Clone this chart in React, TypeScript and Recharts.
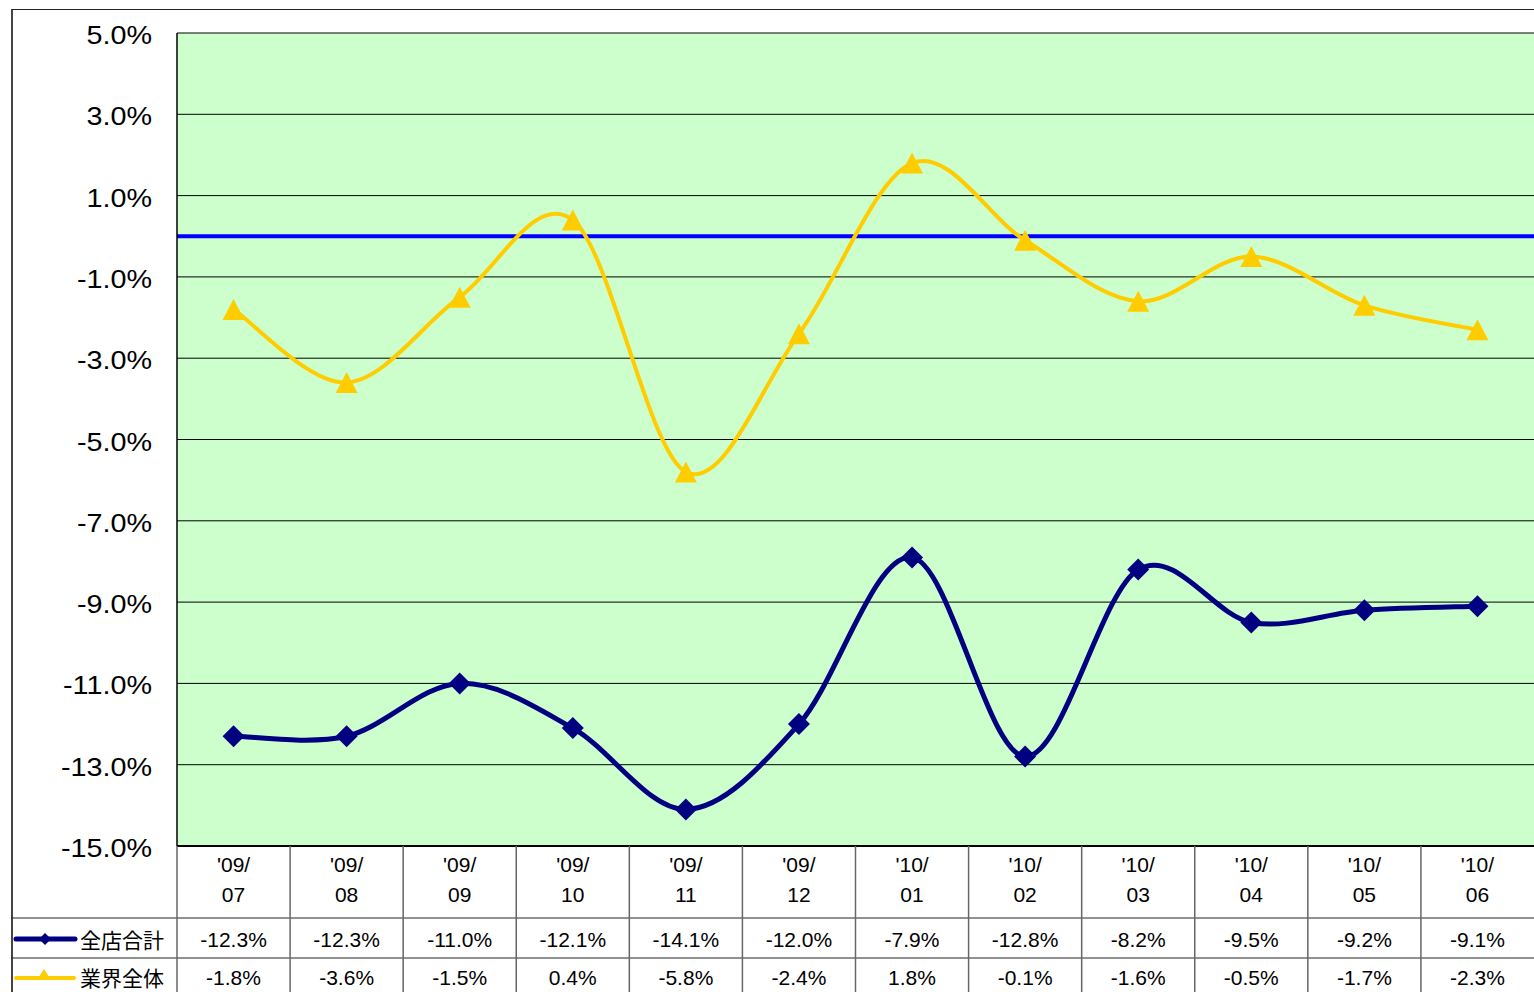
import React from 'react';
import { ComposedChart, Line, XAxis, YAxis, CartesianGrid, ReferenceLine } from 'recharts';

const yearLabels = ["'09/", "'09/", "'09/", "'09/", "'09/", "'09/", "'10/", "'10/", "'10/", "'10/", "'10/", "'10/"];
const monthLabels = ['07', '08', '09', '10', '11', '12', '01', '02', '03', '04', '05', '06'];
const storeTotal = [-12.3, -12.3, -11.0, -12.1, -14.1, -12.0, -7.9, -12.8, -8.2, -9.5, -9.2, -9.1];
const industryTotal = [-1.8, -3.6, -1.5, 0.4, -5.8, -2.4, 1.8, -0.1, -1.6, -0.5, -1.7, -2.3];
const yTicks = [5, 3, 1, -1, -3, -5, -7, -9, -11, -13, -15];
const seriesNames = ['全店合計', '業界全体'];

const NAVY = '#000080';
const GOLD = '#FFCC00';
const FONT = '"Liberation Sans", Arial, sans-serif';
const CJK = '"Noto Sans CJK JP", sans-serif';

const data = monthLabels.map((m, i) => ({
  key: yearLabels[i] + m,
  store: storeTotal[i],
  industry: industryTotal[i],
}));

// Excel-like smoothed line (Catmull-Rom as cubic Bezier)
function excelCurve(context: any) {
  let pts: number[][] = [];
  return {
    areaStart() {},
    areaEnd() {},
    lineStart() { pts = []; },
    lineEnd() {
      const n = pts.length;
      if (!n) return;
      context.moveTo(pts[0][0], pts[0][1]);
      for (let i = 0; i < n - 1; i++) {
        const p0 = pts[Math.max(0, i - 1)];
        const p1 = pts[i];
        const p2 = pts[i + 1];
        const p3 = pts[Math.min(n - 1, i + 2)];
        context.bezierCurveTo(
          p1[0] + (p2[0] - p0[0]) / 6, p1[1] + (p2[1] - p0[1]) / 6,
          p2[0] - (p3[0] - p1[0]) / 6, p2[1] - (p3[1] - p1[1]) / 6,
          p2[0], p2[1]
        );
      }
    },
    point(x: number, y: number) { pts.push([+x, +y]); },
  };
}

const Diamond = (p: any) => {
  const { cx, cy } = p;
  if (cx == null || cy == null) return <g key={p.index} />;
  const r = 11;
  return <polygon key={p.index} points={`${cx},${cy - r} ${cx + r},${cy} ${cx},${cy + r} ${cx - r},${cy}`} fill={NAVY} />;
};

const Triangle = (p: any) => {
  const { cx, cy } = p;
  if (cx == null || cy == null) return <g key={p.index} />;
  const h = 21, w = 22;
  return <polygon key={p.index} points={`${cx},${cy - h / 2} ${cx + w / 2},${cy + h / 2} ${cx - w / 2},${cy + h / 2}`} fill={GOLD} />;
};

const YTick = (p: any) => {
  const { y, payload } = p;
  return (
    <g transform={`translate(144, ${y + 11}) scale(1.15, 1)`}>
      <text x={0} y={0} textAnchor="end" fontFamily={FONT} fontSize={25} fill="#000">
        {payload.value.toFixed(1)}%
      </text>
    </g>
  );
};

const TableTick = (p: any) => {
  const { x, y, payload, index } = p;
  const half = payload && payload.offset ? payload.offset : 1357 / 12 / 2;
  const base = y;
  const left = x - half;
  const i = index;
  return (
    <g>
      {i === 0 && (
        <g>
          <line x1={3} x2={1600} y1={base + 72} y2={base + 72} stroke="#222" strokeWidth={1} />
          <line x1={3} x2={1600} y1={base + 112} y2={base + 112} stroke="#222" strokeWidth={1} />
          <line x1={8} x2={67} y1={base + 93} y2={base + 93} stroke={NAVY} strokeWidth={5} strokeLinecap="round" />
          <polygon points={`37,${base + 87} 43,${base + 93} 37,${base + 99} 31,${base + 93}`} fill={NAVY} />
          <text x={72} y={base + 93} dominantBaseline="central" fontFamily={CJK} fontSize={21} fill="#000">{seriesNames[0]}</text>
          <line x1={8} x2={66} y1={base + 132} y2={base + 132} stroke={GOLD} strokeWidth={4} strokeLinecap="round" />
          <polygon points={`36,${base + 123} 43,${base + 134} 29,${base + 134}`} fill={GOLD} />
          <text x={72} y={base + 131} dominantBaseline="central" fontFamily={CJK} fontSize={21} fill="#000">{seriesNames[1]}</text>
        </g>
      )}
      <line x1={left} x2={left} y1={base} y2={base + 200} stroke="#666" strokeWidth={1.5} />
      <text x={x} y={base + 18} textAnchor="middle" dominantBaseline="central" fontFamily={FONT} fontSize={21} fill="#000">{yearLabels[i]}</text>
      <text x={x} y={base + 48} textAnchor="middle" dominantBaseline="central" fontFamily={FONT} fontSize={21} fill="#000">{monthLabels[i]}</text>
      <text x={x} y={base + 93} textAnchor="middle" dominantBaseline="central" fontFamily={FONT} fontSize={21} fill="#000">{storeTotal[i].toFixed(1)}%</text>
      <text x={x} y={base + 131} textAnchor="middle" dominantBaseline="central" fontFamily={FONT} fontSize={21} fill="#000">{industryTotal[i].toFixed(1)}%</text>
    </g>
  );
};

export default function App() {
  return (
    <div style={{ position: 'fixed', left: 0, top: 0, width: 1534, height: 992, overflow: 'hidden', background: '#fff' }}>
      <div style={{ position: 'absolute', left: 11, top: 9, width: 2000, height: 2000, borderTop: '1px solid #222', borderLeft: '2px solid #444' }} />
      <div style={{ position: 'absolute', left: 8, top: 8 }}>
        <ComposedChart width={1540} height={1000} data={data} margin={{ top: 25, right: 14, left: 0, bottom: 12 }}>
          <CartesianGrid vertical={false} horizontal={true} stroke="#000" strokeWidth={1} fill="#CCFFCC" fillOpacity={1} horizontalValues={yTicks} />
          <XAxis dataKey="key" scale="band" height={150} tick={<TableTick />} tickLine={false} tickSize={0} tickMargin={0} axisLine={{ stroke: '#000', strokeWidth: 2 }} interval={0} />
          <YAxis width={169} domain={[-15, 5]} ticks={yTicks} type="number" tick={<YTick />} tickLine={false} tickSize={0} tickMargin={0} axisLine={{ stroke: '#000', strokeWidth: 1.5 }} allowDataOverflow interval={0} />
          <ReferenceLine y={0} stroke="#0000FF" strokeWidth={4} />
          <Line dataKey="industry" type={excelCurve as any} stroke={GOLD} strokeWidth={4} dot={Triangle} activeDot={false} isAnimationActive={false} />
          <Line dataKey="store" type={excelCurve as any} stroke={NAVY} strokeWidth={5} dot={Diamond} activeDot={false} isAnimationActive={false} />
        </ComposedChart>
      </div>
    </div>
  );
}
